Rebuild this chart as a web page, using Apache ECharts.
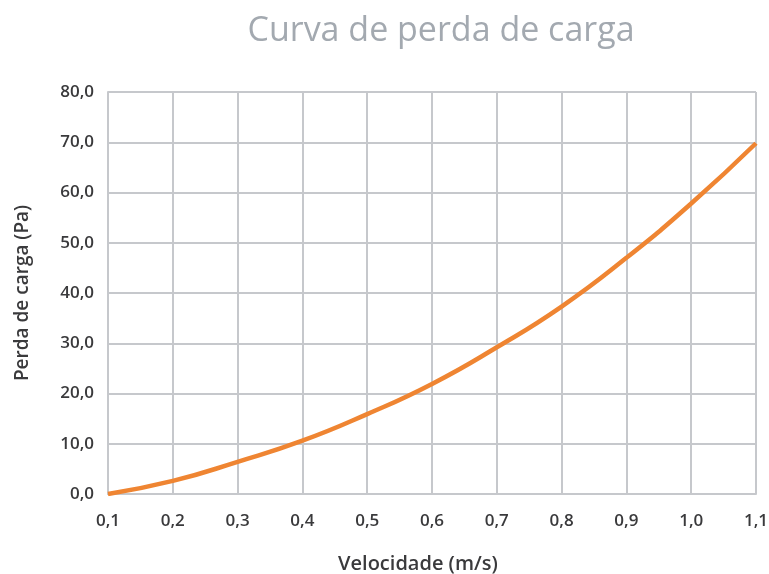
<!DOCTYPE html>
<html>
<head>
<meta charset="utf-8">
<script src="https://cdn.jsdelivr.net/npm/echarts@6/dist/echarts.min.js"></script>
<style>html,body{margin:0;padding:0;background:#fff;}#c{width:769px;height:574px;}</style>
</head>
<body>
<div id="c"></div>
<script>
var titleText = 'Curva de perda de carga';
var xName = 'Velocidade (m/s)';
var yName = 'Perda de carga (Pa)';
var velocities = ['0,1','0,2','0,3','0,4','0,5','0,6','0,7','0,8','0,9','1,0','1,1'];
var pressureLoss = [0, 2.6, 6.4, 10.6, 15.9, 21.9, 29.2, 37.3, 47.0, 57.8, 69.8];

var gridColor = '#c6c8cc';
var textColor = '#3a3a3c';
var chart = echarts.init(document.getElementById('c'));
chart.setOption({
  animation: false,
  title: {
    text: titleText,
    left: 436, top: 9, textAlign: 'center',
    textStyle: {fontFamily: 'Open Sans', fontWeight: 'normal', fontSize: 34, color: '#a3a9b0'}
  },
  grid: {left: 108, right: 13, top: 92, bottom: 80, containLabel: false, outerBoundsMode: 'none'},
  xAxis: {
    type: 'category', boundaryGap: false, data: velocities,
    name: xName, nameLocation: 'middle', nameGap: 60,
    nameTextStyle: {fontFamily: 'Open Sans', fontSize: 20, fontWeight: 600, color: textColor, padding: [0, 28, 0, 0]},
    axisLine: {lineStyle: {color: gridColor, width: 2}},
    axisTick: {show: false},
    axisLabel: {fontFamily: 'Open Sans', fontSize: 17, fontWeight: 600, color: textColor, margin: 19},
    splitLine: {show: true, lineStyle: {color: gridColor, width: 2}}
  },
  yAxis: {
    type: 'value', min: 0, max: 80, interval: 10,
    name: yName, nameLocation: 'middle', nameGap: 76,
    nameTextStyle: {fontFamily: 'Open Sans', fontSize: 19, fontWeight: 600, color: textColor},
    axisLine: {show: true, lineStyle: {color: gridColor, width: 2}},
    axisTick: {show: false},
    axisLabel: {fontFamily: 'Open Sans', fontSize: 17, fontWeight: 600, color: textColor, margin: 14,
      formatter: function (v) { return v.toFixed(1).replace('.', ','); }},
    splitLine: {show: true, lineStyle: {color: gridColor, width: 2}}
  },
  series: [{
    type: 'line', data: pressureLoss, smooth: true, symbol: 'none',
    lineStyle: {color: '#ef8532', width: 4.5}
  }]
});
</script>
</body>
</html>
